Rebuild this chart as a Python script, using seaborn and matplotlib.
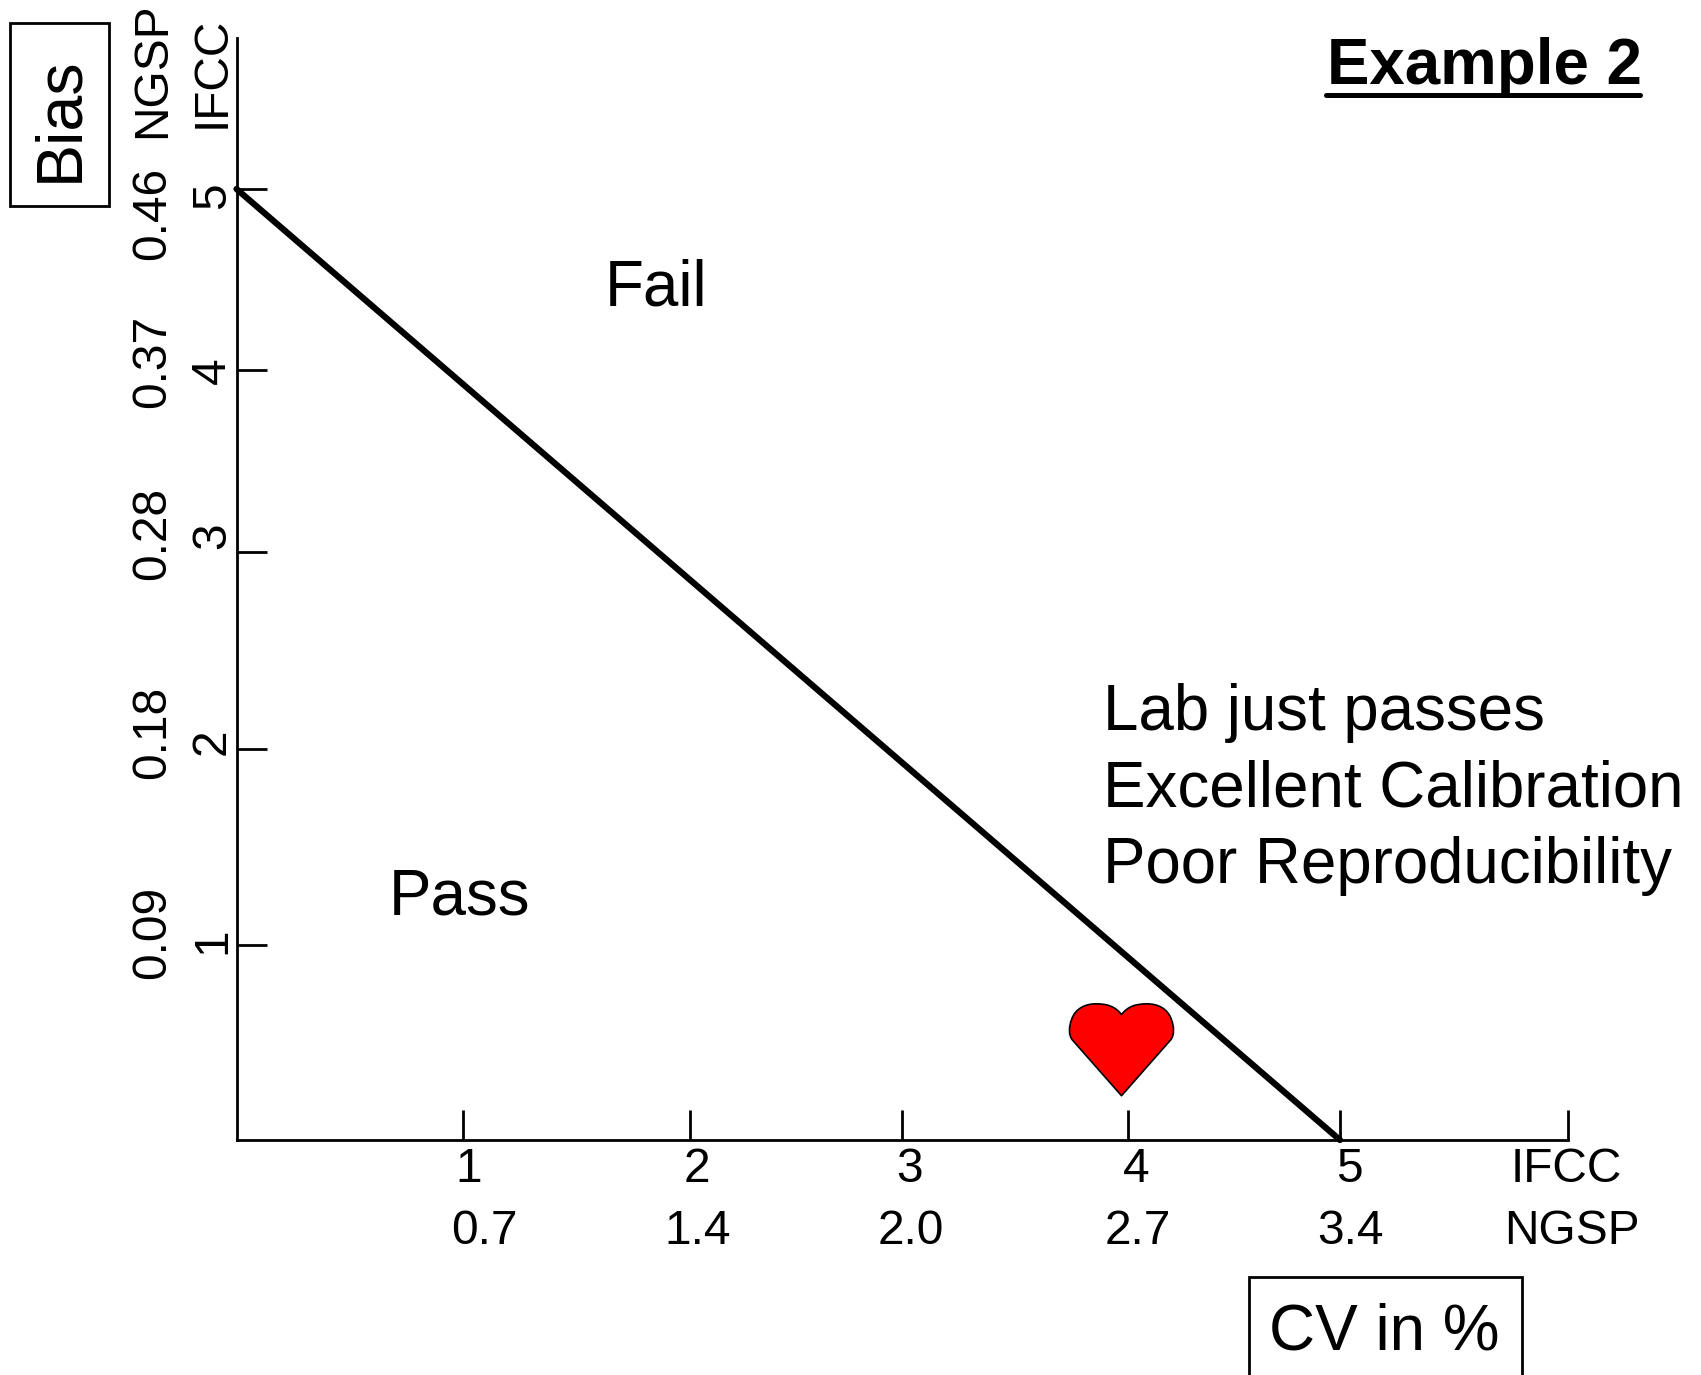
import numpy as np
import seaborn as sns
import matplotlib.pyplot as plt
from matplotlib.lines import Line2D
from matplotlib.patches import Rectangle
from matplotlib.path import Path

# Data
limit_cv = [0, 5]
limit_bias = [5, 0]
lab_cv = [3.97]
lab_bias = [0.47]

cv_ticks = [0, 1, 2, 3, 4, 5, 6]
bias_ticks = [0, 1, 2, 3, 4, 5, 5.8]
cv_ifcc_labels = ['1', '2', '3', '4', '5', 'IFCC']
cv_ngsp_labels = ['0.7', '1.4', '2.0', '2.7', '3.4', 'NGSP']
bias_ifcc_labels = ['1', '2', '3', '4', '5', 'IFCC']
bias_ngsp_labels = ['0.09', '0.18', '0.28', '0.37', '0.46', 'NGSP']
note_lines = ['Lab just passes', 'Excellent Calibration', 'Poor Reproducibility']

# The ticks in the original are hand placed, so they are not evenly spaced
W, H = 1701, 1375
cv_px = [236.5, 463, 690, 901.5, 1128, 1340, 1567.5]
bias_px = [1140, 945, 748.5, 552, 370, 189, 38]

sns.set_style('white')
plt.rcParams['font.family'] = ['Liberation Sans', 'DejaVu Sans']

fig = plt.figure(figsize=(W / 100, H / 100), dpi=100)
ax = fig.add_axes([cv_px[0] / W, 1 - bias_px[0] / H,
                   (cv_px[-1] - cv_px[0]) / W, (bias_px[0] - bias_px[-1]) / H])


def scale_funcs(values, pixels):
    values = np.array(values, dtype=float)
    pixels = np.array(pixels, dtype=float)
    if pixels[0] > pixels[-1]:
        pixels = -pixels
    return (lambda v: np.interp(v, values, pixels),
            lambda p: np.interp(p, pixels, values))


ax.set_xscale('function', functions=scale_funcs(cv_ticks, cv_px))
ax.set_yscale('function', functions=scale_funcs(bias_ticks, bias_px))

sns.lineplot(x=limit_cv, y=limit_bias, color='black', linewidth=4.5,
             errorbar=None, ax=ax, clip_on=False)

heart = Path(
    [(0, -0.92), (-0.96, 0.17),
     (-1.03, 0.26), (-1.03, 0.42), (-0.97, 0.57),
     (-0.9, 0.78), (-0.7, 0.87), (-0.5, 0.87),
     (-0.28, 0.87), (-0.12, 0.82), (0, 0.66),
     (0.12, 0.82), (0.28, 0.87), (0.5, 0.87),
     (0.7, 0.87), (0.9, 0.78), (0.97, 0.57),
     (1.03, 0.42), (1.03, 0.26), (0.96, 0.17),
     (0, -0.92), (0, -0.92)],
    [Path.MOVETO, Path.LINETO] + [Path.CURVE4] * 18 + [Path.LINETO, Path.CLOSEPOLY])
sns.scatterplot(x=lab_cv, y=lab_bias, marker=heart, s=5800, color='#ff0000',
                edgecolor='black', linewidth=1.2, ax=ax, zorder=3)

ax.set_xlim(cv_ticks[0], cv_ticks[-1])
ax.set_ylim(bias_ticks[0], bias_ticks[-1])
ax.set_xticks(cv_ticks[1:], labels=[])
ax.set_yticks(bias_ticks[1:-1], labels=[])
ax.minorticks_off()
ax.tick_params(axis='both', which='major', direction='in', length=21.5,
               width=2, color='black', bottom=True, left=True)
sns.despine(ax=ax)
for side in ['left', 'bottom']:
    ax.spines[side].set_color('black')
    ax.spines[side].set_linewidth(2)
ax.patch.set_alpha(0)


def put(x, y, s, size=34.5, **kw):
    fig.text(x / W, 1 - y / H, s, fontsize=size, color='black', va='baseline', **kw)


# x axis labels
for x, s in zip([469, 696.5, 909.5, 1136, 1349, 1566.5], cv_ifcc_labels):
    put(x, 1182.5, s, ha='center')
for x, s in zip([484, 697.5, 911, 1138, 1350.5, 1572], cv_ngsp_labels):
    put(x, 1243.5, s, ha='center')

# y axis labels, turned
for y, s in zip([941, 742, 536, 371, 196, 72], bias_ifcc_labels):
    put(225, y, s, ha='center', rotation=90, rotation_mode='anchor')
for y, s in zip([932, 732, 533, 361, 213, 70], bias_ngsp_labels):
    put(165, y, s, ha='center', rotation=90, rotation_mode='anchor')

put(605, 305.5, 'Fail', size=45.8)
put(389, 914.5, 'Pass', size=45.8)
for y, s in zip([730, 806.5, 883], note_lines):
    put(1103, y, s, size=45.8)

put(1327, 84, 'Example 2', size=45.8, fontweight='bold')
fig.add_artist(Line2D([1326 / W, 1640 / W], [1 - 94.5 / H, 1 - 94.5 / H],
                      color='black', linewidth=3.6))

# boxed axis names
put(77, 119, 'Bias', size=46.5, ha='center', rotation=90, rotation_mode='anchor')
fig.add_artist(Rectangle((10 / W, 1 - 206 / H), 98.5 / W, 183 / H, fill=False,
                         edgecolor='black', linewidth=2))
put(1269, 1349, 'CV in %', size=46)
fig.add_artist(Rectangle((1249 / W, 1 - 1395 / H), 273 / W, 118 / H, fill=False,
                         edgecolor='black', linewidth=2))

fig.savefig('out.png', dpi=100, facecolor='white')
